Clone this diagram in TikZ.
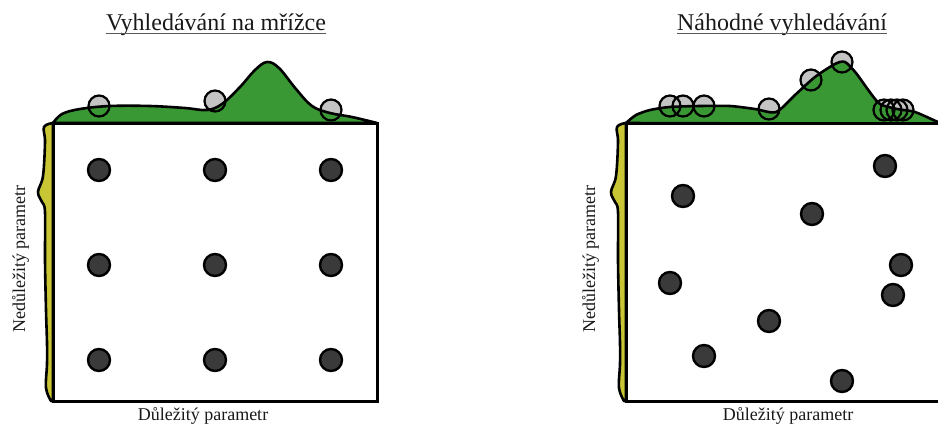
\documentclass[tikz,border=0pt]{standalone}
\usepackage{fontspec}
\setmainfont{Liberation Serif}
\definecolor{hillgreen}{RGB}{58,152,52}
\definecolor{sideyellow}{RGB}{200,198,52}
\definecolor{dotfill}{RGB}{58,58,58}
\definecolor{probefill}{RGB}{196,196,196}
\tikzset{
  darkdot/.style={circle, draw=black, line width=2.4pt, fill=dotfill, minimum size=22pt, inner sep=0pt},
  probe/.style={circle, fill=probefill, minimum size=21pt, inner sep=0pt},
  probering/.style={draw=black, line width=2.2pt},
  hill/.style={fill=hillgreen, draw=black, line width=2.6pt, line join=round},
  side/.style={fill=sideyellow, draw=black, line width=2.6pt, line join=round},
  frame/.style={draw=black, line width=3pt, fill=white},
  titletext/.style={font=\fontsize{24}{28}\selectfont, inner sep=0pt, anchor=base, text=black!90},
  axistext/.style={font=\fontsize{18}{21}\selectfont, inner sep=0pt, anchor=base, text=black!90},
  uline/.style={draw=black!65, line width=1.1pt}
}
\begin{document}
\begin{tikzpicture}[x=1pt,y=-1pt]
\useasboundingbox (0,0) rectangle (938,424);
\clip (0,0) rectangle (938,424);

% ---------------- Titles ----------------
\node[titletext] (t1) at (216,30) {Vyhledávání na mřížce};
\node[titletext] (t2) at (782,30) {Náhodné vyhledávání};
\draw[uline] ([yshift=-3.5pt]t1.base west) -- ([yshift=-3.5pt]t1.base east);
\draw[uline] ([yshift=-3.5pt]t2.base west) -- ([yshift=-3.5pt]t2.base east);

% ---------------- Left panel ----------------
% probe fills (under the hill)
\node[probe] (lp1) at (99,106) {};
\node[probe] (lp2) at (215,101) {};
\node[probe] (lp3) at (331,110) {};

\path[hill] plot[smooth, tension=0.6] coordinates {(53,123) (62,114) (80,109) (110,106) (150,106) (185,108) (207,110) (222,104) (240,87) (255,70) (267,62) (279,68) (296,89) (312,106) (330,113) (352,117) (377,123)} -- cycle;

\path[side] plot[smooth, tension=0.6] coordinates {(53,123) (44,127) (45,142) (43,176) (38,192) (42,202) (45,212) (45,260) (46,310) (47,343) (47,364) (46,388) (51,401)} -- (53,401) -- cycle;

\node[frame, minimum width=324pt, minimum height=278pt, inner sep=0pt] (lbox) at (215,262) {};

\foreach \p in {lp1,lp2,lp3} \draw[probering] (\p.center) circle[radius=10.5];

\foreach \i/\x in {1/99,2/215,3/331}{
  \foreach \j/\y in {1/170,2/265,3/360}{
    \node[darkdot] (g\i\j) at (\x,\y) {};
  }
}

\node[axistext] (lx) at (203,420) {Důležitý parametr};
\node[axistext, rotate=90] (ly) at (25,259) {Nedůležitý parametr};

% ---------------- Right panel ----------------
\node[probe] (rp1) at (670,106) {};
\node[probe] (rp2) at (683,106) {};
\node[probe] (rp3) at (704,106) {};
\node[probe] (rp4) at (769,109) {};
\node[probe] (rp5) at (811,80) {};
\node[probe] (rp6) at (842,62) {};
\node[probe] (rp7) at (884,110) {};
\node[probe] (rp8) at (891,110) {};
\node[probe] (rp9) at (897,110) {};
\node[probe] (rp10) at (903,110) {};

\path[hill] plot[smooth, tension=0.45] coordinates {(626,123) (636,115) (650,110) (670,107) (700,106) (730,106) (755,109) (776,112) (795,95) (815,77) (835,64) (845,62) (856,73) (869,91) (880,104) (897,109) (915,112) (938,122) (946,124)} -- cycle;

\path[side] plot[smooth, tension=0.6] coordinates {(626,123) (617,127) (618,142) (616,176) (611,192) (615,202) (618,212) (618,260) (619,310) (620,343) (620,364) (619,388) (624,401)} -- (626,401) -- cycle;

\node[frame, minimum width=324pt, minimum height=278pt, inner sep=0pt] (rbox) at (788,262) {};

\foreach \p in {rp1,rp2,rp3,rp4,rp5,rp6,rp7,rp8,rp9,rp10} \draw[probering] (\p.center) circle[radius=10.5];

\node[darkdot] (r1) at (885,166) {};
\node[darkdot] (r2) at (683,196) {};
\node[darkdot] (r3) at (812,214) {};
\node[darkdot] (r4) at (670,283) {};
\node[darkdot] (r5) at (901,265) {};
\node[darkdot] (r6) at (893,295) {};
\node[darkdot] (r7) at (769,321) {};
\node[darkdot] (r8) at (704,356) {};
\node[darkdot] (r9) at (842,381) {};

\node[axistext] (rx) at (788,420) {Důležitý parametr};
\node[axistext, rotate=90] (ry) at (595,259) {Nedůležitý parametr};
\end{tikzpicture}
\end{document}
